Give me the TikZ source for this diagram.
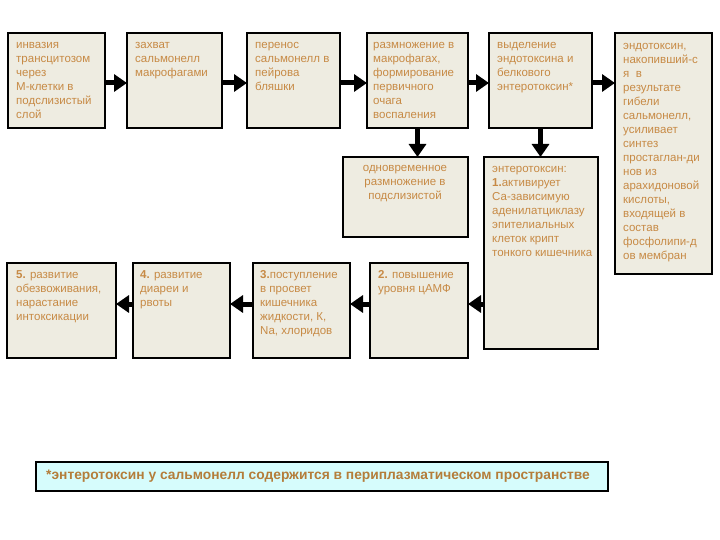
\documentclass[tikz,border=0pt]{standalone}
\usepackage{fontspec}
\setmainfont{Liberation Sans}
\usetikzlibrary{arrows.meta}
\definecolor{boxfill}{HTML}{EEECE1}
\definecolor{txtcol}{HTML}{C78A45}
\definecolor{fnfill}{HTML}{D6FCFC}
\definecolor{fntxt}{HTML}{B47D3A}
\tikzset{
  box/.style={draw=black, line width=2pt, fill=boxfill, inner sep=0pt, outer sep=0pt},
  txt/.style={anchor=north west, inner sep=0pt, align=left, text=txtcol, font=\fontsize{11.5}{14}\selectfont},
  ctxt/.style={anchor=north, inner sep=0pt, align=center, text=txtcol, font=\fontsize{11.5}{14}\selectfont},
  arr/.style={line width=5pt, draw=black, -{Triangle[length=13pt,width=17pt]}}
}
\newcommand\mkbox[5]{%
  \node[box, minimum width={(#4-#2)*1pt}, minimum height={(#5-#3)*1pt}] (#1) at ({(#2+#4)/2},{(#3+#5)/2}) {};}
\begin{document}
\begin{tikzpicture}[x=1pt,y=-1pt]
\useasboundingbox (0,0) rectangle (720,540);
% top row
\mkbox{b1}{8}{33}{105}{128}
\mkbox{b2}{127}{33}{222}{128}
\mkbox{b3}{247}{33}{340}{128}
\mkbox{b4}{367}{33}{468}{128}
\mkbox{b5}{489}{33}{592}{128}
\mkbox{b6}{615}{33}{712}{274}
\mkbox{b7}{343}{157}{468}{237}
\mkbox{b8}{484}{157}{598}{349}
% bottom row
\mkbox{c2}{370}{263}{468}{358}
\mkbox{c3}{253}{263}{350}{358}
\mkbox{c4}{133}{263}{230}{358}
\mkbox{c5}{7}{263}{116}{358}
% texts
\node[txt] (t1) at (16,39) {\strut инвазия\\трансцитозом\\через\\М-клетки в\\подслизистый\\слой};
\node[txt] (t2) at (135,39) {\strut захват\\сальмонелл\\макрофагами};
\node[txt] (t3) at (255,39) {\strut перенос\\сальмонелл в\\пейрова\\бляшки};
\node[txt] (t4) at (373,39) {\strut размножение в\\макрофагах,\\формирование\\первичного\\очага\\воспаления};
\node[txt] (t5) at (497,39) {\strut выделение\\эндотоксина и\\белкового\\энтеротоксин*};
\node[txt] (t6) at (623,39) {\strut эндотоксин,\\накопивший-с\\я~~в\\результате\\гибели\\сальмонелл,\\усиливает\\синтез\\простаглан-ди\\нов из\\арахидоновой\\кислоты,\\входящей в\\состав\\фосфолипи-д\\ов мембран};
\node[ctxt] (t7) at (405,162) {\strut одновременное\\размножение в\\подслизистой};
\node[txt] (t8) at (492,162) {\strut энтеротоксин:\\\textbf{1.}активирует\\Са-зависимую\\аденилатциклазу\\эпителиальных\\клеток крипт\\тонкого кишечника};
\node[txt] (s2) at (378,268) {\strut\textbf{2.} повышение\\уровня цАМФ};
\node[txt] (s3) at (260,268) {\strut\textbf{3.}поступление\\в просвет\\кишечника\\жидкости, К,\\Na, хлоридов};
\node[txt] (s4) at (140,268) {\strut\textbf{4.} развитие\\диареи и\\рвоты};
\node[txt] (s5) at (16,268) {\strut\textbf{5.} развитие\\обезвоживания,\\нарастание\\интоксикации};
% footnote
\node[draw=black, line width=1.3pt, fill=fnfill, minimum width=572pt, minimum height=29pt, inner sep=0pt] (fn) at (322,476.5) {};
\node[anchor=west, inner sep=0pt, text=fntxt, font=\fontsize{13.8}{16}\selectfont\bfseries] (fnt) at (46,476) {*энтеротоксин у сальмонелл содержится в периплазматическом пространстве};
% arrows
\coordinate (ya) at (0,83);
\coordinate (yb) at (0,304);
\draw[arr] (b1.east |- ya) -- (b2.west |- ya);
\draw[arr] (b2.east |- ya) -- (b3.west |- ya);
\draw[arr] (b3.east |- ya) -- (b4.west |- ya);
\draw[arr] (b4.east |- ya) -- (b5.west |- ya);
\draw[arr] (b5.east |- ya) -- (b6.west |- ya);
\draw[arr] (b4.south) -- (b4.south |- b7.north);
\draw[arr] (b5.south) -- (b5.south |- b8.north);
\draw[arr] (b8.west |- yb) -- (c2.east |- yb);
\draw[arr] (c2.west |- yb) -- (c3.east |- yb);
\draw[arr] (c3.west |- yb) -- (c4.east |- yb);
\draw[arr] (c4.west |- yb) -- (c5.east |- yb);
\end{tikzpicture}
\end{document}
